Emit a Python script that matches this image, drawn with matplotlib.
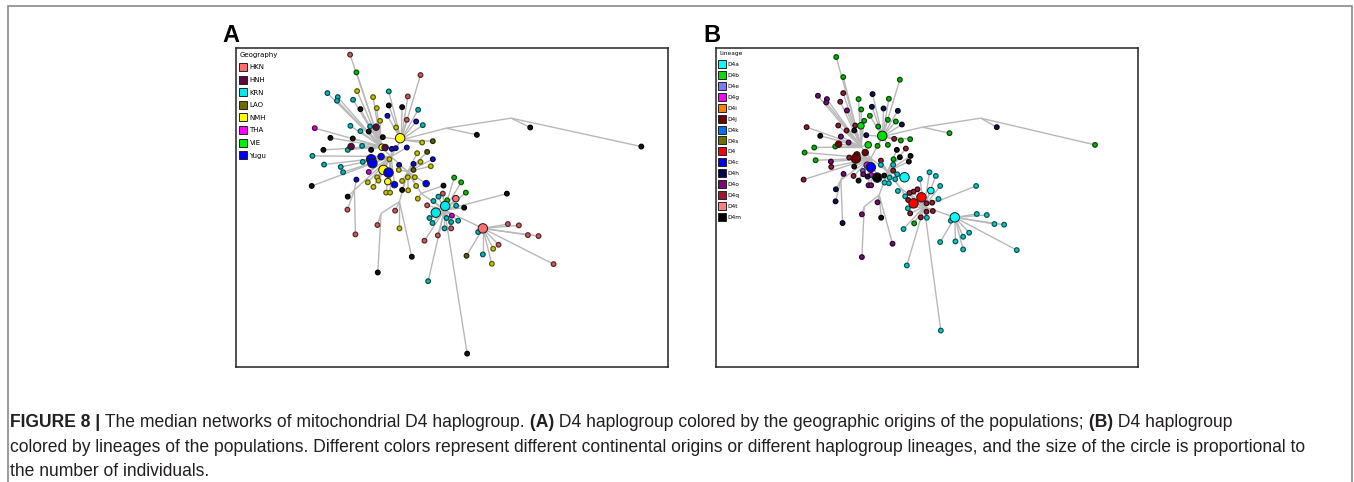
import numpy as np
import matplotlib
matplotlib.use("Agg")
from matplotlib import pyplot as plt
from matplotlib.collections import LineCollection
from matplotlib.lines import Line2D
from matplotlib.patches import Rectangle
from matplotlib import colors as mcolors

# ---- panel A: haplotypes coloured by geography ----
geo_names = ['HKN', 'HNH', 'KRN', 'LAO', 'NMH', 'THA', 'VIE', 'Yugu']
geo_colors = {'HKN': '#ff6f6f', 'HNH': '#5a0a3c', 'KRN': '#00e8e8', 'LAO': '#6b6b00',
              'NMH': '#ffff00', 'THA': '#ff00ff', 'VIE': '#00ee00', 'Yugu': '#0000ee',
              '-': '#000000'}

# median vectors (branch points) of network A, with the vector each hangs from
a_jx = [470, 500, 440, 520, 495, 630, 745, 830, 635, 560, 440, 360]
a_jy = [350, 300, 320, 395, 485, 510, 565, 235, 265, 460, 520, 450]
a_jparent = [-1, 0, 0, 0, 3, 9, 5, 8, 1, 3, 4, 0]

a_x = [347, 366, 558, 279, 310, 308, 356, 368, 463, 520,
       416, 427, 378, 463, 503, 551, 459, 437, 517, 545,
       565, 407, 425, 485, 348, 241, 378, 403, 445, 497,
       288, 355, 563, 595, 383, 350, 267, 340, 410, 443,
       452, 472, 484, 517, 548, 578, 595, 234, 269, 319,
       326, 385, 410, 414, 440, 465, 494, 537, 558, 589,
       403, 447, 462, 493, 537, 232, 366, 400, 417, 428,
       432, 460, 480, 503, 520, 541, 545, 575, 455, 467,
       503, 521, 340, 339, 363, 429, 430, 482, 495, 532,
       550, 627, 659, 680, 694, 817, 625, 612, 597, 578,
       664, 632, 604, 638, 665, 689, 585, 594, 636, 652,
       650, 671, 630, 650, 610, 570, 581, 698, 745, 731,
       820, 853, 880, 912, 792, 776, 745, 696, 772, 957,
       727, 887, 1220]
a_y = [45, 98, 106, 160, 172, 183, 180, 154, 155, 170,
       172, 205, 208, 197, 202, 210, 228, 243, 240, 245,
       256, 260, 262, 263, 258, 265, 274, 275, 292, 295,
       294, 296, 308, 304, 318, 320, 330, 330, 330, 322,
       323, 327, 325, 323, 340, 336, 358, 348, 374, 381,
       397, 366, 358, 370, 350, 358, 375, 372, 366, 379,
       396, 390, 398, 390, 390, 438, 419, 427, 441, 412,
       422, 425, 434, 423, 412, 412, 438, 431, 458, 458,
       450, 451, 470, 509, 583, 555, 697, 512, 565, 650,
       476, 437, 413, 427, 458, 461, 461, 470, 483, 496,
       476, 498, 518, 481, 497, 503, 534, 549, 534, 527,
       546, 542, 565, 565, 586, 602, 723, 940, 565, 576,
       552, 556, 585, 588, 614, 626, 643, 647, 671, 672,
       285, 263, 320]
a_group = ['HKN', 'VIE', 'HKN', 'KRN', 'KRN', 'KRN', 'KRN', 'NMH', 'KRN', 'HKN',
           'NMH', 'NMH', '-', '-', '-', 'KRN', 'Yugu', 'NMH', 'HKN', 'Yugu',
           'KRN', 'KRN', 'HNH', 'NMH', 'KRN', 'THA', 'KRN', '-', '-', 'NMH',
           '-', '-', 'NMH', 'LAO', 'KRN', 'HNH', '-', 'KRN', '-', 'NMH',
           'HNH', 'Yugu', 'Yugu', 'Yugu', 'NMH', 'LAO', 'Yugu', 'KRN', 'KRN', 'KRN',
           'KRN', 'KRN', 'Yugu', 'Yugu', 'Yugu', 'NMH', 'Yugu', 'Yugu', 'NMH', 'NMH',
           'THA', 'NMH', 'Yugu', 'NMH', 'LAO', '-', 'Yugu', 'NMH', 'NMH', 'NMH',
           'NMH', 'NMH', 'Yugu', 'NMH', 'NMH', 'NMH', 'NMH', 'Yugu', 'NMH', 'NMH',
           '-', 'NMH', '-', 'HKN', 'HKN', 'HKN', '-', 'HKN', 'NMH', '-',
           'NMH', '-', 'VIE', 'VIE', 'VIE', '-', 'HKN', 'KRN', 'KRN', 'HKN',
           'HKN', 'KRN', 'KRN', 'VIE', 'KRN', '-', 'KRN', 'KRN', 'KRN', 'THA',
           'KRN', 'KRN', 'KRN', 'HKN', 'HKN', 'HKN', 'KRN', '-', 'HKN', 'KRN',
           'HKN', 'HKN', 'HKN', 'HKN', 'HKN', 'NMH', 'KRN', 'LAO', 'NMH', 'HKN',
           '-', '-', '-']
a_size = [1, 1, 1, 1, 1, 1, 1, 1, 1, 1,
          1, 1, 1, 1, 1, 1, 1, 1, 1, 1,
          1, 1, 2, 1, 1, 1, 1, 1, 1, 3,
          1, 1, 1, 1, 1, 2, 1, 1, 1, 2,
          2, 1, 1, 1, 1, 1, 1, 1, 1, 1,
          1, 1, 3, 3, 2, 1, 1, 1, 1, 1,
          1, 3, 3, 1, 1, 1, 1, 1, 1, 1,
          1, 2, 2, 1, 1, 1, 1, 2, 1, 1,
          1, 1, 1, 1, 1, 1, 1, 1, 1, 1,
          1, 1, 1, 1, 1, 1, 1, 1, 1, 1,
          2, 3, 3, 1, 1, 1, 1, 1, 1, 1,
          1, 1, 1, 1, 1, 1, 1, 1, 3, 1,
          1, 1, 1, 1, 1, 1, 1, 1, 1, 1,
          1, 1, 1]
a_link = [2, 2, 1, 2, 2, 2, 2, 2, 1, 1,
          2, 2, 2, 1, 1, 1, 1, 2, 1, 1,
          1, 2, 2, 1, 2, 2, 2, 2, 1, 1,
          2, 2, 1, 1, 2, 2, 2, 2, 2, 2,
          2, 0, 0, 0, 3, 3, 3, 0, 0, 0,
          0, 0, 0, 0, 0, 0, 3, 3, 3, 3,
          0, 0, 0, 3, 3, 0, 11, 0, 0, 0,
          0, 0, 0, 3, 3, 3, 3, 3, 0, 0,
          3, 3, 11, 11, 11, 10, 10, 4, 4, 4,
          9, 9, 5, 5, 5, 5, 5, 5, 5, 5,
          5, 5, 5, 5, 5, 5, 5, 5, 5, 5,
          5, 5, 5, 5, 5, 5, 5, 5, 6, 6,
          6, 6, 6, 6, 6, 6, 6, 6, 6, 6,
          8, 7, 7]

# ---- panel B: haplotypes coloured by lineage ----
lin_names = ['D4a', 'D4b', 'D4e', 'D4g', 'D4i', 'D4j', 'D4k', 'D4s', 'D4',
             'D4c', 'D4h', 'D4o', 'D4q', 'D4t', 'D4m']
lin_colors = {'D4a': '#00ffff', 'D4b': '#00dd00', 'D4e': '#7b7bff', 'D4g': '#ff00ff',
              'D4i': '#ff8000', 'D4j': '#700000', 'D4k': '#0070ff', 'D4s': '#707000',
              'D4': '#ff0000', 'D4c': '#0000ff', 'D4h': '#000050', 'D4o': '#800080',
              'D4q': '#a01830', 'D4t': '#ff8080', 'D4m': '#000000'}

b_jx = [470, 505, 440, 520, 495, 630, 722, 800, 625, 560, 450, 380]
b_jy = [355, 290, 320, 395, 465, 500, 532, 235, 262, 445, 500, 420]
b_jparent = [-1, 0, 0, 0, 3, 9, 5, 8, 1, 3, 4, 0]

b_x = [366, 387, 557, 311, 338, 336, 387, 378, 475, 524,
       433, 473, 508, 551, 398, 441, 467, 450, 521, 545,
       563, 440, 372, 423, 277, 397, 420, 492, 318, 380,
       403, 504, 456, 560, 588, 540, 462, 373, 363, 300,
       271, 490, 521, 575, 548, 453, 428, 425, 405, 500,
       538, 557, 589, 584, 350, 351, 304, 459, 470, 420,
       446, 447, 471, 460, 418, 388, 433, 489, 510, 537,
       537, 500, 571, 549, 526, 543, 511, 524, 463, 471,
       268, 365, 364, 385, 443, 443, 490, 501, 535, 551,
       573, 617, 646, 665, 678, 786, 650, 610, 598, 586,
       582, 622, 598, 581, 588, 600, 568, 578, 637, 654,
       637, 656, 620, 638, 673, 680, 722, 710, 788, 818,
       841, 870, 765, 747, 724, 678, 747, 908, 706, 848,
       1143]
b_y = [52, 112, 120, 168, 178, 188, 160, 186, 163, 177,
       178, 201, 206, 213, 212, 209, 228, 243, 240, 245,
       254, 258, 257, 257, 262, 272, 272, 260, 288, 290,
       308, 288, 286, 302, 298, 297, 315, 313, 320, 323,
       338, 318, 315, 326, 330, 338, 345, 356, 353, 362,
       358, 352, 348, 365, 365, 381, 361, 376, 382, 380,
       393, 403, 405, 410, 408, 402, 422, 413, 407, 392,
       375, 375, 412, 403, 413, 418, 428, 430, 436, 436,
       419, 448, 484, 549, 523, 651, 487, 533, 611, 453,
       469, 417, 397, 408, 438, 438, 452, 448, 455, 459,
       480, 472, 490, 505, 520, 550, 567, 676, 490, 488,
       515, 513, 532, 533, 477, 871, 532, 542, 522, 525,
       552, 554, 578, 590, 604, 606, 628, 630, 280, 262,
       315]
b_group = ['D4b', 'D4b', 'D4b', 'D4o', 'D4o', 'D4o', 'D4q', 'D4q', 'D4h', 'D4b',
           'D4b', 'D4h', 'D4h', 'D4h', 'D4o', 'D4b', 'D4b', 'D4b', 'D4b', 'D4b',
           'D4h', 'D4b', 'D4q', 'D4q', 'D4q', 'D4q', 'D4m', 'D4b', 'D4m', 'D4o',
           'D4o', 'D4b', 'D4h', 'D4b', 'D4b', 'D4q', 'D4b', 'D4j', 'D4b', 'D4b',
           'D4b', 'D4b', 'D4b', 'D4q', 'D4m', 'D4j', 'D4j', 'D4j', 'D4q', 'D4q',
           'D4b', 'D4m', 'D4m', 'D4m', 'D4o', 'D4q', 'D4b', 'D4g', 'D4c', 'D4m',
           'D4e', 'D4o', 'D4g', 'D4h', 'D4q', 'D4o', 'D4m', 'D4m', 'D4m', 'D4q',
           'D4a', 'D4a', 'D4a', 'D4a', 'D4a', 'D4a', 'D4a', 'D4a', 'D4o', 'D4o',
           'D4q', 'D4h', 'D4h', 'D4h', 'D4o', 'D4o', 'D4o', 'D4m', 'D4o', 'D4a',
           'D4a', 'D4a', 'D4a', 'D4a', 'D4a', 'D4a', 'D4a', 'D4q', 'D4q', 'D4q',
           'D4q', 'D4', 'D4', 'D4a', 'D4q', 'D4b', 'D4a', 'D4a', 'D4q', 'D4q',
           'D4q', 'D4q', 'D4q', 'D4a', 'D4a', 'D4a', 'D4a', 'D4a', 'D4a', 'D4a',
           'D4a', 'D4a', 'D4a', 'D4a', 'D4a', 'D4a', 'D4a', 'D4a', 'D4b', 'D4h',
           'D4b']
b_size = [1, 1, 1, 1, 1, 1, 1, 1, 1, 1,
          1, 1, 1, 1, 1, 1, 1, 1, 1, 1,
          1, 2, 1, 1, 1, 1, 1, 1, 1, 1,
          1, 3, 1, 1, 1, 1, 2, 2, 1, 1,
          1, 1, 1, 1, 1, 2, 2, 3, 1, 1,
          1, 1, 1, 1, 1, 1, 1, 2, 3, 1,
          1, 1, 1, 1, 1, 1, 1, 3, 1, 1,
          1, 1, 3, 1, 1, 1, 1, 1, 1, 1,
          1, 1, 1, 1, 1, 1, 1, 1, 1, 1,
          1, 1, 1, 1, 1, 1, 2, 1, 1, 1,
          1, 3, 3, 1, 1, 1, 1, 1, 1, 1,
          1, 1, 1, 1, 1, 1, 3, 1, 1, 1,
          1, 1, 1, 1, 1, 1, 1, 1, 1, 1,
          1]
b_link = [2, 2, 1, 2, 2, 2, 2, 2, 1, 1,
          2, 1, 1, 1, 2, 2, 1, 2, 1, 1,
          1, 2, 2, 2, 2, 2, 2, 1, 2, 2,
          2, 1, 1, 1, 1, 1, 2, 2, 2, 2,
          0, 1, 1, 3, 3, 0, 0, 0, 0, 3,
          3, 3, 3, 3, 0, 0, 0, 0, 0, 0,
          0, 0, 0, 0, 0, 11, 0, 0, 3, 3,
          3, 3, 3, 3, 3, 3, 3, 3, 0, 0,
          0, 11, 11, 11, 10, 10, 4, 4, 4, 9,
          9, 5, 5, 5, 5, 5, 5, 5, 5, 5,
          5, 5, 5, 5, 5, 5, 5, 5, 5, 5,
          5, 5, 5, 5, 5, 5, 6, 6, 6, 6,
          6, 6, 6, 6, 6, 6, 6, 6, 8, 7,
          7]

caption_lines = [
    [("FIGURE 8 |", True), (" The median networks of mitochondrial D4 haplogroup.", False),
     (" (A)", True), (" D4 haplogroup colored by the geographic origins of the populations;", False),
     (" (B)", True), (" D4 haplogroup", False)],
    [("colored by lineages of the populations. Different colors represent different continental "
      "origins or different haplogroup lineages, and the size of the circle is proportional to", False)],
    [("the number of individuals.", False)],
]

W, H = 1354, 482
node_area = {1: 11, 2: 22, 3: 46}


def node_style(color, size):
    rgb = np.array(mcolors.to_rgb(color))
    if size == 1:
        # small haplotypes: muted centre inside a dark ring of the same hue
        return rgb * 0.68 + 0.08, rgb * 0.35
    return rgb, np.array([0.1, 0.1, 0.1])


def draw_network(ax, jx, jy, jparent, xs, ys, groups, sizes, links, palette):
    segs = []
    for j, p in enumerate(jparent):
        if p >= 0:
            segs.append([(jx[j], jy[j]), (jx[p], jy[p])])
    for x, y, l in zip(xs, ys, links):
        segs.append([(x, y), (jx[l], jy[l])])
    ax.add_collection(LineCollection(segs, colors='#b8b8b8', linewidths=1.0, zorder=1))
    for level in (1, 2, 3):
        idx = [i for i, s in enumerate(sizes) if s == level]
        styles = [node_style(palette[groups[i]], level) for i in idx]
        ax.scatter([xs[i] for i in idx], [ys[i] for i in idx], s=node_area[level],
                   c=[f for f, e in styles], edgecolors=[e for f, e in styles],
                   linewidths=0.9 if level == 1 else 0.7, zorder=2 + level)


def add_key(ax, title, names, palette, fs, spacing):
    handles = [Line2D([], [], linestyle='none', marker='s', markersize=5.2,
                      markerfacecolor=palette[n], markeredgecolor='#222222',
                      markeredgewidth=0.7, label=n) for n in names]
    leg = ax.legend(handles=handles, title=title, loc='upper left', frameon=False,
                    fontsize=fs, title_fontsize=fs, handlelength=0.9,
                    handletextpad=0.5, labelspacing=spacing, borderaxespad=0.1,
                    borderpad=0.45, alignment='left')
    return leg


fig = plt.figure(figsize=(W / 100, H / 100), dpi=100)

axA = fig.add_axes([236 / W, 1 - 367 / H, 432 / W, 319 / H])
axB = fig.add_axes([716 / W, 1 - 367 / H, 422 / W, 319 / H])

draw_network(axA, a_jx, a_jy, a_jparent, a_x, a_y, a_group, a_size, a_link, geo_colors)
draw_network(axB, b_jx, b_jy, b_jparent, b_x, b_y, b_group, b_size, b_link, lin_colors)
add_key(axA, 'Geography', geo_names, geo_colors, 5.0, 0.95)
add_key(axB, 'Lineage', lin_names, lin_colors, 4.2, 1.0)

axA.set_xlim(5, 1300)
axA.set_ylim(980, 25)
axB.set_xlim(5, 1272)
axB.set_ylim(980, 25)
for ax in (axA, axB):
    ax.set_xticks([])
    ax.set_yticks([])
    for sp in ax.spines.values():
        sp.set_color('#222222')
        sp.set_linewidth(1.1)

fig.text(222 / W, 1 - 42 / H, 'A', fontsize=17, fontweight='bold',
         family='Liberation Sans', va='baseline')
fig.text(703 / W, 1 - 42 / H, 'B', fontsize=17, fontweight='bold',
         family='Liberation Sans', va='baseline')

# outer frame of the figure block
fig.add_artist(Rectangle((8 / W, -0.05), (1352 - 8) / W, 1 - 6 / H + 0.05,
                         transform=fig.transFigure, fill=False,
                         edgecolor='#8a8a8a', linewidth=1.2))

# caption, with bold runs placed one after another
renderer = fig.canvas.get_renderer()
cap_family = 'Liberation Sans'


def run_width(s, bold, size):
    t = fig.text(0, 0, s.replace(' ', '\u00a0'), fontsize=size, family=cap_family,
                 fontweight='bold' if bold else 'normal')
    w = t.get_window_extent(renderer).width
    t.remove()
    return w


# size the caption so that its second line runs from x=10 to x=1318
second = sum(run_width(s, b, 10) for s, b in caption_lines[1])
cap_size = 10 * 1308 / second

baselines = [427, 452, 476]
for runs, base in zip(caption_lines, baselines):
    x = 10
    for s, bold in runs:
        fig.text(x / W, 1 - base / H, s.replace(' ', '\u00a0'), fontsize=cap_size,
                 family=cap_family, fontweight='bold' if bold else 'normal',
                 color='#231f20', va='baseline')
        x += run_width(s, bold, cap_size)

fig.savefig('out.png', dpi=100)
